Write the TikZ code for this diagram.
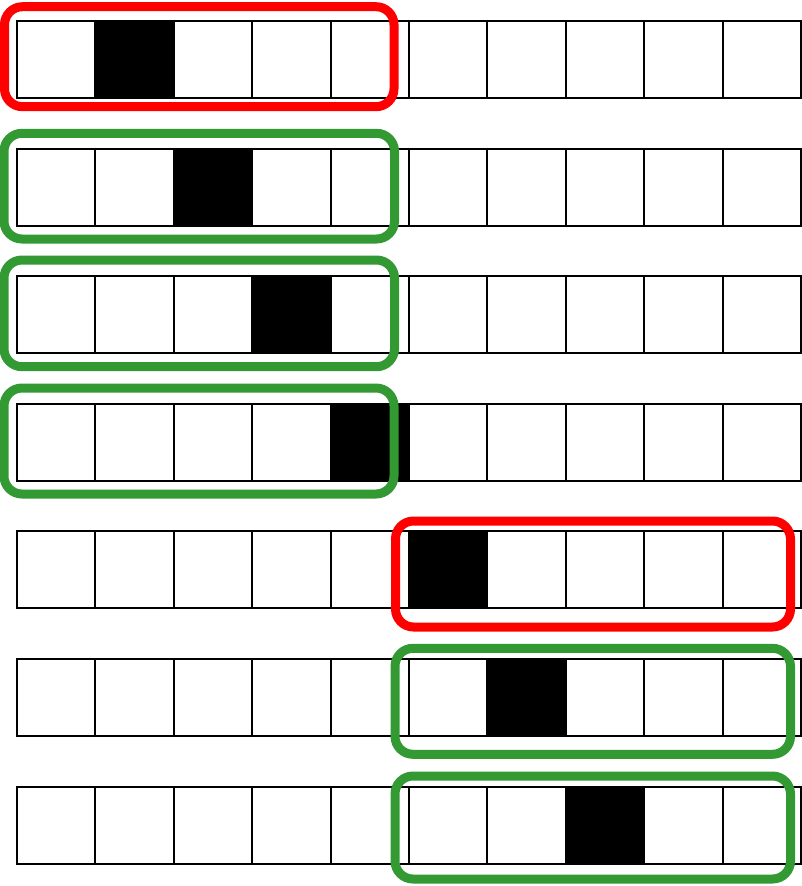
\documentclass[tikz,border=0pt]{standalone}
\definecolor{myred}{RGB}{255,0,0}
\definecolor{mygreen}{RGB}{51,153,51}
\begin{document}
\begin{tikzpicture}[x=1pt,y=-1pt,
  gridcell/.style={draw=black,line width=2pt},
  blackcell/.style={fill=black},
  frame/.style={line width=9pt,rounded corners=18pt}]
\useasboundingbox (0,0) rectangle (801,886);
\foreach \t [count=\r] in {21,148.5,276,403.5,531,658.5,786.5} {
  \fill[blackcell] ({17+\r*78.4},\t) rectangle ++(78.4,77);
  \foreach \i in {0,...,9}
    \draw[gridcell] ({17+\i*78.4},\t) rectangle ++(78.4,77);
}
\fill[blackcell] (331,403.5) rectangle (410,480.5);
\draw[frame,myred]   (4.5,6.7)   rectangle (394,106.7);
\draw[frame,mygreen] (4,133.3)   rectangle (394.5,239);
\draw[frame,mygreen] (4,260)     rectangle (394.5,366.7);
\draw[frame,mygreen] (4,388)     rectangle (394,494);
\draw[frame,myred]   (395.5,521) rectangle (790.5,627);
\draw[frame,mygreen] (395,648.3) rectangle (790.5,754.3);
\draw[frame,mygreen] (395,776)   rectangle (790.5,879);
\end{tikzpicture}
\end{document}
